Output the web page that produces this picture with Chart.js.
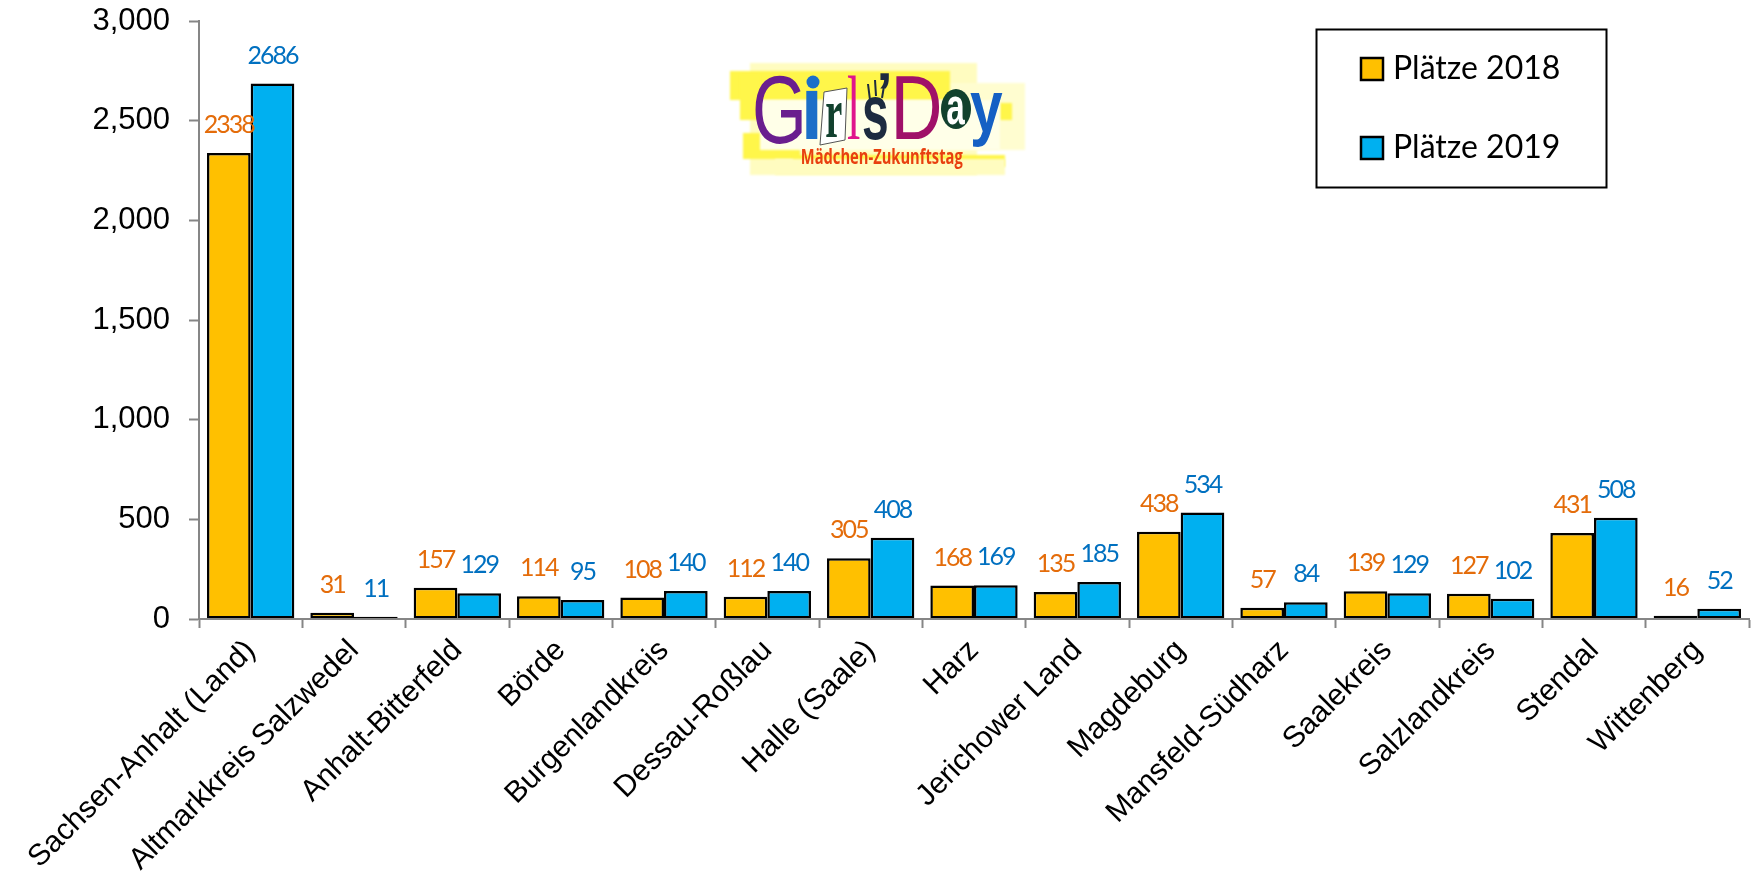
<!DOCTYPE html>
<html><head><meta charset="utf-8">
<style>html,body{margin:0;padding:0;background:#fff}canvas{display:block}</style>
<script src="https://cdn.jsdelivr.net/npm/chart.js@4"></script>
</head><body><canvas id="c" width="1758" height="894"></canvas>
<script>
const categories = ["Sachsen-Anhalt (Land)","Altmarkkreis Salzwedel","Anhalt-Bitterfeld","Börde","Burgenlandkreis","Dessau-Roßlau","Halle (Saale)","Harz","Jerichower Land","Magdeburg","Mansfeld-Südharz","Saalekreis","Salzlandkreis","Stendal","Wittenberg"];
const places2018 = [2338,31,157,114,108,112,305,168,135,438,57,139,127,431,16];
const places2019 = [2686,11,129,95,140,140,408,169,185,534,84,129,102,508,52];
const yTicks = [0,500,1000,1500,2000,2500,3000];

const AXIS = '#868686';
const labelColors = ['#E46C0A','#0070C0'];

const valueLabels = {
  id:'valueLabels',
  afterDatasetsDraw(chart){
    const c = chart.ctx;
    chart.data.datasets.forEach((ds,i)=>{
      chart.getDatasetMeta(i).data.forEach((el,j)=>{
        c.save();
        c.font = '25px Lato';
        c.letterSpacing = '-2px';
        c.fillStyle = labelColors[i];
        c.textAlign = 'center';
        c.textBaseline = 'middle';
        c.fillText(String(ds.data[j]), el.x, el.y-28);
        c.restore();
      });
    });
  }
};

const legendBox = {
  id:'legendBox',
  afterDraw(chart){
    const c = chart.ctx;
    c.save();
    c.strokeStyle='#000'; c.lineWidth=2;
    c.strokeRect(1316.5,29.5,290,158);
    chart.data.datasets.forEach((ds,i)=>{
      const y = 58 + i*79;
      c.fillStyle = ds.backgroundColor;
      c.fillRect(1361,y,22,22);
      c.strokeStyle='#000'; c.lineWidth=2.5;
      c.strokeRect(1361,y,22,22);
      c.fillStyle='#000';
      c.font='32px Lato';
      c.textAlign='left'; c.textBaseline='middle';
      c.fillText(ds.label,1393,y+11);
    });
    c.restore();
  }
};

function fitText(c,txt,font,color,x0,y0,x1,y1,rot){
  c.save();
  c.font=font; c.textAlign='left'; c.textBaseline='alphabetic'; c.fillStyle=color;
  const m=c.measureText(txt);
  const w=m.actualBoundingBoxRight+m.actualBoundingBoxLeft;
  const h=m.actualBoundingBoxAscent+m.actualBoundingBoxDescent;
  c.translate((x0+x1)/2,(y0+y1)/2);
  if(rot) c.rotate(rot);
  c.scale((x1-x0)/w,(y1-y0)/h);
  c.fillText(txt,-w/2+m.actualBoundingBoxLeft,h/2-m.actualBoundingBoxDescent);
  c.restore();
}

const logo = {
  id:'logo',
  afterDraw(chart){
    const c = chart.ctx;
    c.save();
    c.filter='blur(1px)';
    [['#FFFCC0',750,63,977,175],['#FFFDD0',940,83,1025,150],
     ['#FFF64A',730,71,950,100],['#FFF64A',740,75,760,120],['#FFF64A',743,133,800,159],
     ['#FFF64A',793,155,1005,167],['#FFF64A',1000,103,1012,120],
     ['#FFFCC0',775,159,1005,175],['#FFFFE8',760,100,1000,150]
    ].forEach(r=>{c.fillStyle=r[0];c.fillRect(r[1],r[2],r[3]-r[1],r[4]-r[2]);});
    c.filter='none';
    // white tilted card behind the r
    c.fillStyle='#fff'; c.strokeStyle='#555'; c.lineWidth=1;
    c.beginPath();c.moveTo(824,92);c.lineTo(847,88);c.lineTo(845,140);c.lineTo(820,145);c.closePath();c.fill();c.stroke();
    fitText(c,'G','48px "Liberation Sans"','#6A1E8E',755,75,802,143);
    fitText(c,'ı','48px "Liberation Sans"','#1B6FC8',805,90,818,139);
    c.fillStyle='#1B6FC8';c.beginPath();c.ellipse(813,82,6.5,6.5,0,0,7);c.fill();
    fitText(c,'r','bold 48px "Liberation Serif"','#12412E',826,103,842,137);
    fitText(c,'l','48px "Liberation Serif"','#E0148C',847,75,860,139);
    fitText(c,'s','bold 48px "Liberation Sans"','#1D2B3F',863,97,887,139);
    fitText(c,'ʼ','bold 48px "Liberation Sans"','#1D2B3F',880,71,890,88);
    c.strokeStyle='#1D2B3F';c.lineWidth=2;
    [[870,100,868,84],[876,96,875,80],[882,98,884,86]].forEach(s=>{c.beginPath();c.moveTo(s[0],s[1]);c.lineTo(s[2],s[3]);c.stroke();});
    fitText(c,'D','48px "Liberation Sans"','#A01068',895,77,940,139);
    c.fillStyle='#12412E';c.beginPath();c.ellipse(956,109,15,20,0,0,7);c.fill();
    fitText(c,'a','bold 48px "Liberation Sans"','#fff',947,96,965,124);
    fitText(c,'y','bold 48px "Liberation Sans"','#1560C4',970,92,1003,148);
    fitText(c,'Mädchen-Zukunftstag','bold 24px "Open Sans"','#E8400F',802,147,963,169);
    c.restore();
  }
};

new Chart(document.getElementById('c'),{
  type:'bar',
  data:{labels:categories,datasets:[
    {label:'Plätze 2018',data:places2018,backgroundColor:'#FFC000',borderColor:'#000',borderWidth:2.5,borderSkipped:false},
    {label:'Plätze 2019',data:places2019,backgroundColor:'#00B0F0',borderColor:'#000',borderWidth:2.5,borderSkipped:false}
  ]},
  options:{
    responsive:false,animation:false,
    layout:{padding:{top:21,right:9,left:0,bottom:0}},
    plugins:{legend:{display:false},tooltip:{enabled:false},title:{display:false}},
    datasets:{bar:{categoryPercentage:0.845,barPercentage:1}},
    scales:{
      x:{
        grid:{offset:true,drawOnChartArea:false,drawTicks:true,tickLength:9,tickWidth:2,tickColor:AXIS,z:1},
        border:{color:AXIS,width:2,z:1},
        ticks:{autoSkip:false,minRotation:45,maxRotation:45,padding:5,color:'#000',font:{family:'"Liberation Sans"',size:30}},
        afterFit(s){s.height=275;s.paddingLeft=0;s.paddingRight=0;}
      },
      y:{
        min:yTicks[0],max:yTicks[yTicks.length-1],
        afterBuildTicks(s){s.ticks=yTicks.map(v=>({value:v}));},
        grid:{drawOnChartArea:false,drawTicks:true,tickLength:10,tickWidth:2,tickColor:AXIS},
        border:{color:AXIS,width:2},
        ticks:{padding:19,color:'#000',font:{family:'"Liberation Sans"',size:31}},
        afterFit(s){s.width=199;s.paddingTop=0;s.paddingBottom=0;}
      }
    }
  },
  plugins:[valueLabels,legendBox,logo]
});
</script></body></html>
